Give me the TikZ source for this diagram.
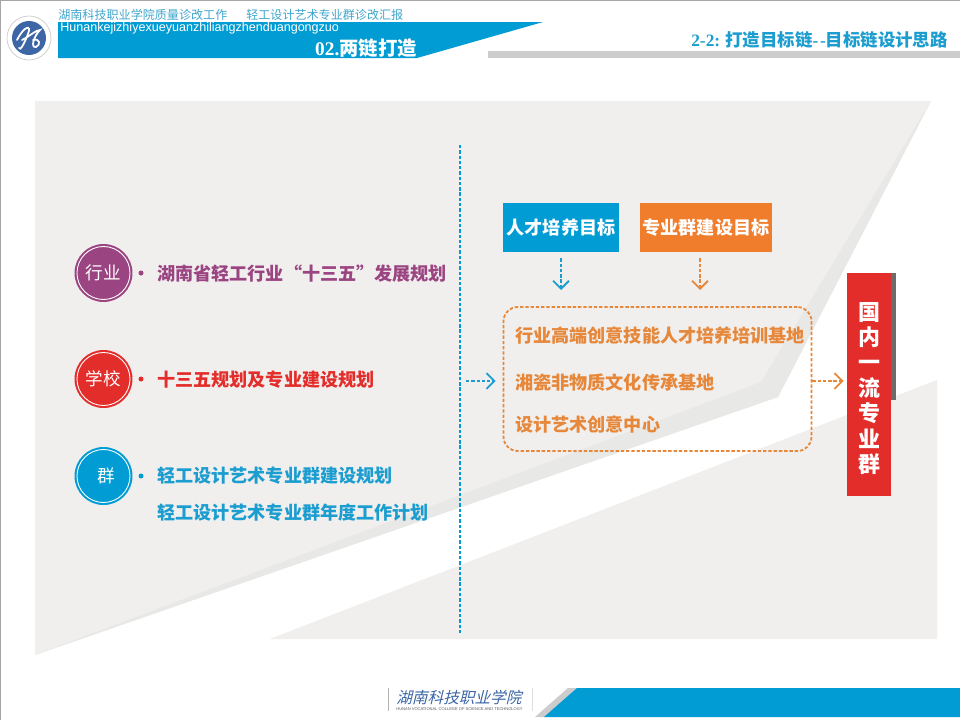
\documentclass[tikz,border=0pt]{standalone}
\usepackage{fontspec}
\usepackage{tikz}
\usetikzlibrary{arrows.meta}
\setmainfont{Noto Sans CJK SC}
\newfontfamily\latinsans{Liberation Sans}
\newfontfamily\latinserif{Liberation Serif}
\newfontfamily\slantcjk[FakeSlant=0.25]{Noto Sans CJK SC}
\definecolor{bluebar}{HTML}{009CD3}
\definecolor{bluetext}{HTML}{1C9DD0}
\definecolor{titleblue}{HTML}{3FA6CE}
\definecolor{orangebox}{HTML}{EF7D2B}
\definecolor{orangetext}{HTML}{E6873A}
\definecolor{redbox}{HTML}{E32D2A}
\definecolor{purplecirc}{HTML}{9B4482}
\definecolor{panelgray}{HTML}{F0EFEE}
\definecolor{shadegray}{HTML}{E8E8E7}
\definecolor{logoblue}{HTML}{3D66A6}
\newcommand{\w}{0.02}
\newcommand{\drawbadge}[4]{\node[badge,fill=#3] (#1) at (#2) {#4}; \draw[white,line width=0.5pt] (#1.center) circle (26.5); \fill[#3] ([xshift=37.5*\w cm]#1.center) circle (2.5);}
\tikzset{
  badge/.style={circle,minimum size=1.16cm,inner sep=0pt,text=white,font=\fontsize{10}{10}\selectfont,draw=none},
  itemtext/.style={anchor=west,font=\fontsize{10.3}{11}\selectfont\bfseries,inner sep=0pt},
  goalbox/.style={minimum height=0.98cm,text=white,font=\fontsize{10.3}{11}\selectfont\bfseries,inner sep=0pt},
  finedash/.style={dash pattern=on 1.9pt off 1.1pt},
  dasharrow/.style={finedash,line width=1.05pt,-{Straight Barb[length=4.5pt,width=9pt]}},
}
\begin{document}
\begin{tikzpicture}[x=\w cm,y=-\w cm]
    \useasboundingbox (0,0) rectangle (960,720);
    \fill[white] (0,0) rectangle (960,720);
    \draw[gray!70,line width=0.6pt] (0.5,720) -- (0.5,0.5) -- (960,0.5);
    % background panels
    \fill[panelgray] (35,101) -- (931,101) -- (778,397) -- (35,655) -- cycle;
    \fill[shadegray] (931,101) -- (778,397) -- (35,655) -- (761,382) -- cycle;
    \fill[panelgray] (270,639) -- (937,380) -- (937,639) -- cycle;
    % header
    \fill[bluebar] (58,22) -- (543,22) -- (417,58) -- (58,58) -- cycle;
    \fill[gray!40] (488,51) rectangle (960,58);
    \node[circle,minimum size=0.88cm,inner sep=0pt,draw=gray!40,fill=white] (logoring) at (29,38) {};
    \node[circle,minimum size=0.68cm,inner sep=0pt,fill=logoblue] (logo) at (29,38) {};
    \draw[white,line width=1pt,line cap=round] (17,40) .. controls (24,26) and (32,24) .. (28,34) .. controls (25,42) and (20,52) .. (19,48);
    \draw[white,line width=1pt,line cap=round] (22,40) .. controls (30,36) and (36,30) .. (40,30) .. controls (34,36) and (30,48) .. (36,47) .. controls (41,45) and (40,38) .. (33,40);
    \node[anchor=west,inner sep=0pt,text=titleblue,font=\fontsize{6.87}{8}\selectfont] (titlecn) at (58,15) {湖南科技职业学院质量诊改工作\hspace{19\dimexpr 0.5691pt\relax}轻工设计艺术专业群诊改汇报};
    \node[anchor=west,inner sep=0pt,text=white,font=\fontsize{7.15}{8}\selectfont\latinsans] (titleen) at (60,28) {Hunankejizhiyexueyuanzhiliangzhenduangongzuo};
    \node[anchor=east,inner sep=0pt,text=white,font=\fontsize{11}{12}\selectfont\bfseries] (section) at (417,48) {{\latinserif 02.}两链打造};
    \node[anchor=east,inner sep=0pt,text=bluetext,font=\fontsize{9.9}{11}\selectfont\bfseries] (subtitle) at (948,40) {{\latinserif 2-2:} 打造目标链{\latinserif -\hspace{1pt}-}目标链设计思路};
    % divider
    \coordinate (divtop) at (460,145);
    \coordinate (divbot) at (460,634);
    \draw[bluebar,finedash,line width=1pt] (divtop) -- (divbot);
    % left column
    \drawbadge{hangye}{103.5,273}{purplecirc}{行业};
    \drawbadge{xuexiao}{103.5,379}{redbox}{学校};
    \drawbadge{qun}{103.5,476}{bluebar}{\hspace{3pt}群};
    \node[itemtext,text=purplecirc] (hangyetext) at (157,274) {湖南省轻工行业“十三五”发展规划};
    \node[itemtext,text=redbox] (xuexiaotext) at (157,380) {十三五规划及专业建设规划};
    \node[itemtext,text=bluetext] (quntext) at (157,476) {轻工设计艺术专业群建设规划};
    \node[itemtext,text=bluetext] (quntextb) at (157,513) {轻工设计艺术专业群年度工作计划};
    % right column
    \node[goalbox,fill=bluebar,minimum width=2.32cm] (rencai) at (561,227.5) {人才培养目标};
    \node[goalbox,fill=orangebox,minimum width=2.64cm] (qunmubiao) at (706,227.5) {专业群建设目标};
    \node[draw=orangetext,finedash,line width=1pt,rounded corners=8pt,minimum width=6.16cm,minimum height=2.88cm,inner sep=0pt] (jidi) at (657.5,379) {};
    \node[itemtext,text=orangetext] (jidia) at (515,336) {行业高端创意技能人才培养培训基地};
    \node[itemtext,text=orangetext] (jidib) at (515,383) {湘瓷非物质文化传承基地};
    \node[itemtext,text=orangetext] (jidic) at (515,425) {设计艺术创意中心};
    \fill[gray!85!black] (890,273) rectangle (896,400);
    \node[fill=redbox,minimum width=0.88cm,minimum height=4.46cm,inner sep=0pt] (yiliu) at (869,384.5) {};
    \node[inner sep=0pt,text=white,font=\fontsize{12.5}{14.5}\selectfont\bfseries,align=center] (yiliutext) at (869,388.5) {国\\内\\一\\流\\专\\业\\群};
    \coordinate (rencaiend) at (561,290);
    \coordinate (qunend) at (700,290);
    \coordinate (leftstart) at (466,381);
    \draw[dasharrow,bluetext,shorten <=6*\w cm] (rencai.south) -- (rencaiend);
    \draw[dasharrow,orangetext,shorten <=6*\w cm] ([xshift=-6*\w cm]qunmubiao.south) -- (qunend);
    \draw[dasharrow,bluetext,shorten >=7*\w cm] (leftstart) -- (jidi.west |- leftstart);
    \draw[dasharrow,orangetext,shorten >=3*\w cm] (jidi.east |- leftstart) -- (yiliu.west |- leftstart);
    % footer
    \fill[gray!40] (535,717) -- (568,688) -- (577,688) -- (545,717) -- cycle;
    \fill[bluebar] (544,717) -- (577,688) -- (960,688) -- (960,717) -- cycle;
    \draw[gray!60,line width=0.4pt] (388,688) -- (388,711);
    \draw[gray!25,line width=0.3pt] (532,688) -- (532,711);
    \node[anchor=west,inner sep=0pt,text=logoblue,font=\fontsize{8.9}{10}\selectfont\slantcjk] (schoolname) at (396,697) {湖南科技职业学院};
    \node[anchor=west,inner sep=0pt,text=gray!70!black,font=\fontsize{2.3}{3}\selectfont\latinsans] (schoolen) at (396,709) {HUNAN VOCATIONAL COLLEGE OF SCIENCE AND TECHNOLOGY};
\end{tikzpicture}
\end{document}
